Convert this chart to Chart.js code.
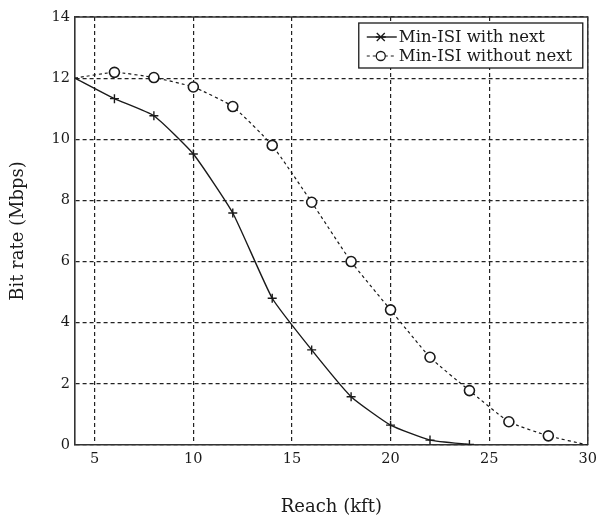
<!DOCTYPE html>
<html>
<head>
<meta charset="utf-8">
<title>Bit rate vs reach</title>
<script src="https://cdn.jsdelivr.net/npm/chart.js@4.4.1/dist/chart.umd.min.js"></script>
<style>
  body { margin: 0; background: #fff; }
  #wrap { width: 603px; height: 518px; }
</style>
</head>
<body>
<div id="wrap"><canvas id="rateChart" width="603" height="518"></canvas></div>
<script>
// reach in kft and bit rate in Mbps
const reachWithNext = [4, 6, 8, 10, 12, 14, 16, 18, 20, 22, 24];
const rateWithNext = [12.0, 11.33, 10.77, 9.52, 7.59, 4.80, 3.11, 1.58, 0.65, 0.16, 0.02];

const reachWithoutNext = [4, 6, 8, 10, 12, 14, 16, 18, 20, 22, 24, 26, 28, 30];
const rateWithoutNext = [12.0, 12.19, 12.02, 11.71, 11.07, 9.80, 7.94, 6.0, 4.42, 2.87, 1.78, 0.76, 0.30, 0.0];

const xTicks = [5, 10, 15, 20, 25, 30];
const yTicks = [0, 2, 4, 6, 8, 10, 12, 14];

const serif = '"DejaVu Serif", serif';
const ink = "#1a1a1a";

const toPoints = (xs, ys) => xs.map((x, i) => ({ x: x, y: ys[i] }));

// no marker on the first point (sits on the axis) or on the last one of the dashed line
const radii = (n, skipLast) => Array.from({ length: n }, (_, i) => (i === 0 || (skipLast && i === n - 1) ? 0 : 1));

// frame on top/right of the plot area
const frame = {
  id: "frame",
  beforeDatasetsDraw(chart) {
    const { ctx, chartArea: a } = chart;
    ctx.save();
    ctx.strokeStyle = "#333";
    ctx.lineWidth = 1.5;
    ctx.beginPath();
    ctx.moveTo(a.left, a.top);
    ctx.lineTo(a.right, a.top);
    ctx.lineTo(a.right, a.bottom);
    ctx.stroke();
    ctx.restore();
  },
};

function drawMarker(ctx, style, x, y) {
  ctx.beginPath();
  if (style === "circle") {
    ctx.arc(x, y, 4.5, 0, Math.PI * 2);
    ctx.fillStyle = "#fff";
    ctx.fill();
  } else {
    ctx.moveTo(x - 5, y); ctx.lineTo(x + 5, y);
    ctx.moveTo(x - 4, y - 4); ctx.lineTo(x + 4, y + 4);
    ctx.moveTo(x - 4, y + 4); ctx.lineTo(x + 4, y - 4);
  }
  ctx.stroke();
}

// boxed legend inside the top right corner
const legendBox = {
  id: "legendBox",
  afterDraw(chart) {
    const { ctx, chartArea: a } = chart;
    const w = 224, h = 45;
    const x = a.right - w - 5, y = a.top + 6;
    ctx.save();
    ctx.fillStyle = "#fff";
    ctx.fillRect(x, y, w, h);
    ctx.strokeStyle = ink;
    ctx.lineWidth = 1.3;
    ctx.strokeRect(x, y, w, h);
    ctx.font = "16.5px " + serif;
    ctx.textBaseline = "middle";
    chart.data.datasets.forEach((ds, i) => {
      const cy = y + 14 + i * 19;
      ctx.strokeStyle = ink;
      ctx.lineWidth = ds.borderWidth;
      ctx.setLineDash(ds.borderDash || []);
      ctx.beginPath();
      ctx.moveTo(x + 8, cy);
      ctx.lineTo(x + 38, cy);
      ctx.stroke();
      ctx.setLineDash([]);
      ctx.lineWidth = 1.3;
      drawMarker(ctx, ds.pointStyle === "circle" ? "circle" : "star", x + 22, cy);
      ctx.fillStyle = ink;
      ctx.fillText(ds.label, x + 40, cy + 1);
    });
    ctx.restore();
  },
};

new Chart(document.getElementById("rateChart"), {
  type: "line",
  data: {
    datasets: [
      {
        label: "Min-ISI with next",
        data: toPoints(reachWithNext, rateWithNext),
        borderColor: ink,
        borderWidth: 1.4,
        pointStyle: "cross",
        pointRadius: radii(reachWithNext.length, false).map((r) => r * 4.5),
        pointBorderColor: ink,
        pointBorderWidth: 1.4,
        tension: 0.15,
        fill: false,
      },
      {
        label: "Min-ISI without next",
        data: toPoints(reachWithoutNext, rateWithoutNext),
        borderColor: ink,
        borderWidth: 1.2,
        borderDash: [3, 3],
        pointStyle: "circle",
        pointRadius: radii(reachWithoutNext.length, true).map((r) => r * 5),
        pointBackgroundColor: "#fff",
        pointBorderColor: ink,
        pointBorderWidth: 1.6,
        tension: 0.15,
        fill: false,
      },
    ],
  },
  options: {
    responsive: false,
    animation: false,
    layout: { padding: { top: 17, right: 15, left: 0, bottom: 0 } },
    plugins: {
      legend: { display: false },
      tooltip: { enabled: false },
    },
    scales: {
      x: {
        type: "linear",
        min: 4,
        max: 30,
        afterBuildTicks: (scale) => {
          scale.ticks = xTicks.map((v) => ({ value: v }));
        },
        afterFit: (scale) => {
          scale.height = 73;
        },
        grid: { color: "#222", lineWidth: 1.2, drawTicks: false },
        border: { color: "#333", width: 1.6, dash: [4, 3] },
        ticks: { color: ink, font: { family: serif, size: 14.5 }, padding: 6, maxRotation: 0 },
        title: {
          display: true,
          text: "Reach (kft)",
          color: ink,
          font: { family: serif, size: 18 },
          padding: { top: 0, bottom: 0 },
        },
      },
      y: {
        min: 0,
        max: 14,
        afterBuildTicks: (scale) => {
          scale.ticks = yTicks.map((v) => ({ value: v }));
        },
        afterFit: (scale) => {
          scale.width = 75;
        },
        grid: { color: "#222", lineWidth: 1.2, drawTicks: false },
        border: { color: "#333", width: 1.6, dash: [4, 3] },
        ticks: { color: ink, font: { family: serif, size: 14.5 }, padding: 5 },
        title: {
          display: true,
          text: "Bit rate (Mbps)",
          color: ink,
          font: { family: serif, size: 18 },
          padding: { top: 8, bottom: 0 },
        },
      },
    },
  },
  plugins: [frame, legendBox],
});
</script>
</body>
</html>
